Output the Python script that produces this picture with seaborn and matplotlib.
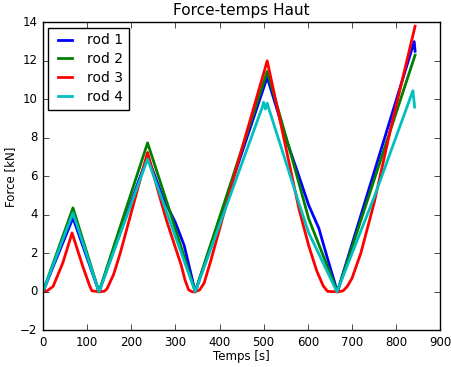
import pandas as pd
import matplotlib
matplotlib.use('Agg')
import matplotlib.pyplot as plt
import seaborn as sns

# key points (time in s, force in kN)
t1 = [0, 68, 127, 237, 270, 300, 320, 345, 508, 550, 580, 602, 625, 645, 667, 841, 843]
f1 = [0, 3.84, 0, 7.05, 5.0, 3.6, 2.4, 0, 11.15, 8.0, 6.0, 4.5, 3.3, 1.7, 0, 13.0, 12.5]

t2 = [0, 68, 127, 237, 290, 345, 508, 560, 602, 667, 843]
f2 = [0, 4.36, 0, 7.74, 4.0, 0, 11.45, 7.3, 3.8, 0, 12.3]

t3 = [0, 10, 23, 45, 66, 78, 90, 105, 111, 128, 139, 145, 160, 175, 237, 260, 280, 300, 313, 322,
      330, 338, 345, 355, 365, 380, 444, 508, 540, 580, 602, 620, 635, 645, 668, 680, 690, 700,
      720, 750, 790, 843]
f3 = [0, 0.06, 0.28, 1.5, 3.06, 2.2, 1.34, 0.36, 0.05, 0, 0.03, 0.15, 0.9, 2.0, 7.24, 5.3, 3.7,
      2.3, 1.4, 0.6, 0.1, 0, 0, 0.1, 0.45, 1.6, 6.9, 12.0, 8.6, 4.3, 2.4, 1.1, 0.3, 0.02, 0, 0.05,
      0.3, 0.7, 2.0, 4.6, 8.7, 13.8]

t4 = [0, 68, 127, 237, 345, 497, 500, 504, 508, 512, 580, 602, 666, 750, 838, 842]
f4 = [0, 4.1, 0, 6.9, 0, 9.6, 9.85, 9.5, 9.8, 9.5, 4.6, 3.07, 0, 4.9, 10.45, 9.6]

rods = ['rod 1', 'rod 2', 'rod 3', 'rod 4']

df = pd.concat([
    pd.DataFrame({'Temps': t, 'Force': f, 'rod': r})
    for t, f, r in zip([t1, t2, t3, t4], [f1, f2, f3, f4], rods)
])

plt.style.use('classic')
fig = plt.figure(figsize=(4.52, 3.67), dpi=100)
ax = fig.add_axes([0.095, 0.1, 0.879, 0.839])

sns.lineplot(x='Temps', y='Force', hue='rod', data=df, palette=['b', 'g', 'r', 'c'],
             estimator=None, sort=False, linewidth=2, ax=ax)

ax.set_xlim(0, 900)
ax.set_ylim(-2, 14)
ax.set_title('Force-temps Haut', fontsize=11)
ax.set_xlabel('Temps [s]', fontsize=8.5, labelpad=1)
ax.set_ylabel('Force [kN]', fontsize=8.5, labelpad=2)
ax.tick_params(labelsize=8.5)
ax.legend(loc='upper left', fontsize=10, handlelength=1.6, labelspacing=0.35,
          borderaxespad=0.4)

plt.savefig('out.png', dpi=100)
